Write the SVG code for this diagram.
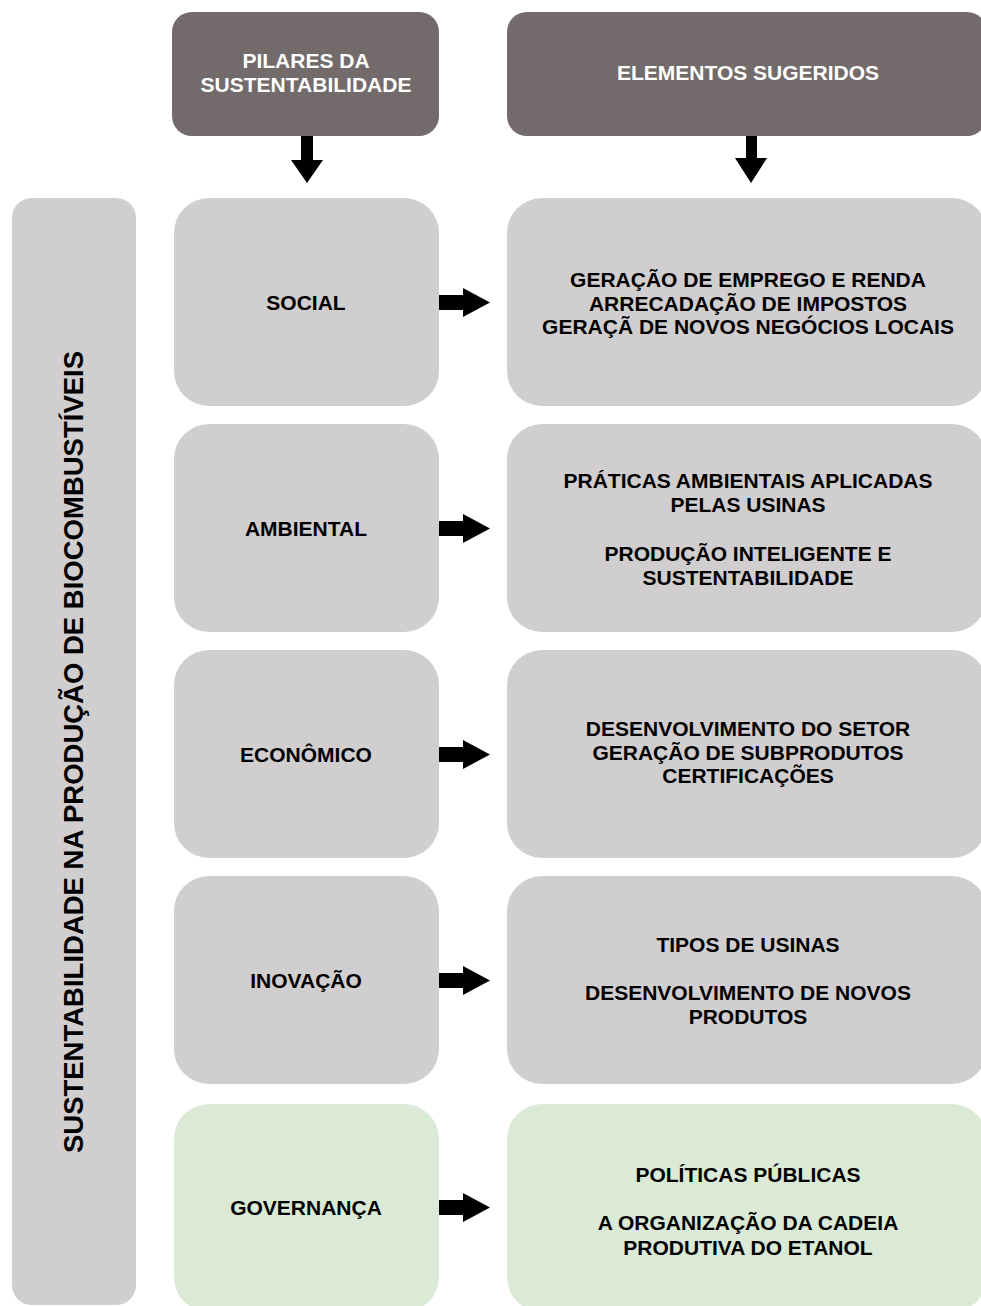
<svg xmlns="http://www.w3.org/2000/svg" width="981" height="1306" viewBox="0 0 981 1306">
  <style>
    .hdr { fill: #736b6b; }
    .gray { fill: #d0cecf; }
    .green { fill: #dbead6; }
    .t { font-family: "Liberation Sans", Arial, sans-serif; font-weight: bold; font-size: 21px; text-anchor: middle; fill: #000; }
    .th { font-family: "Liberation Sans", Arial, sans-serif; font-weight: bold; font-size: 21px; text-anchor: middle; fill: #ffffff; }
    .tv { font-family: "Liberation Sans", Arial, sans-serif; font-weight: bold; font-size: 27.5px; text-anchor: middle; fill: #000; }
    .arr { fill: #000; }
  </style>
  <rect width="981" height="1306" fill="#ffffff"/>

  <g id="header-pilares">
    <rect class="hdr" x="172" y="12" width="267" height="124" rx="20" ry="20"/>
    <text class="th" x="306" y="68">PILARES DA</text>
    <text class="th" x="306" y="92">SUSTENTABILIDADE</text>
  </g>
  <g id="header-elementos">
    <rect class="hdr" x="507" y="12" width="480" height="124" rx="20" ry="20"/>
    <text class="th" x="748" y="80">ELEMENTOS SUGERIDOS</text>
  </g>

  <g id="side-label">
    <rect class="gray" x="12" y="198" width="124" height="1107" rx="20" ry="20"/>
    <text class="tv" transform="translate(83,752) rotate(-90)" x="0" y="0">SUSTENTABILIDADE NA PRODUÇÃO DE BIOCOMBUSTÍVEIS</text>
  </g>

  <g id="pilar-social">
    <rect class="gray" x="174" y="198" width="265" height="208" rx="35" ry="35"/>
    <text class="t" x="306" y="309.5">SOCIAL</text>
  </g>
  <g id="pilar-ambiental">
    <rect class="gray" x="174" y="424" width="265" height="208" rx="35" ry="35"/>
    <text class="t" x="306" y="535.5">AMBIENTAL</text>
  </g>
  <g id="pilar-economico">
    <rect class="gray" x="174" y="650" width="265" height="208" rx="35" ry="35"/>
    <text class="t" x="306" y="761.5">ECONÔMICO</text>
  </g>
  <g id="pilar-inovacao">
    <rect class="gray" x="174" y="876" width="265" height="208" rx="35" ry="35"/>
    <text class="t" x="306" y="987.5">INOVAÇÃO</text>
  </g>
  <g id="pilar-governanca">
    <rect class="green" x="174" y="1104" width="265" height="208" rx="35" ry="35"/>
    <text class="t" x="306" y="1215">GOVERNANÇA</text>
  </g>

  <g id="elem-social">
    <rect class="gray" x="507" y="198" width="480" height="208" rx="35" ry="35"/>
    <text class="t" x="748" y="287">GERAÇÃO DE EMPREGO E RENDA</text>
    <text class="t" x="748" y="311">ARRECADAÇÃO DE IMPOSTOS</text>
    <text class="t" x="748" y="334">GERAÇÃ DE NOVOS NEGÓCIOS LOCAIS</text>
  </g>
  <g id="elem-ambiental">
    <rect class="gray" x="507" y="424" width="480" height="208" rx="35" ry="35"/>
    <text class="t" x="748" y="488">PRÁTICAS AMBIENTAIS APLICADAS</text>
    <text class="t" x="748" y="512">PELAS USINAS</text>
    <text class="t" x="748" y="561">PRODUÇÃO INTELIGENTE E</text>
    <text class="t" x="748" y="585">SUSTENTABILIDADE</text>
  </g>
  <g id="elem-economico">
    <rect class="gray" x="507" y="650" width="480" height="208" rx="35" ry="35"/>
    <text class="t" x="748" y="736">DESENVOLVIMENTO DO SETOR</text>
    <text class="t" x="748" y="760">GERAÇÃO DE SUBPRODUTOS</text>
    <text class="t" x="748" y="783">CERTIFICAÇÕES</text>
  </g>
  <g id="elem-inovacao">
    <rect class="gray" x="507" y="876" width="480" height="208" rx="35" ry="35"/>
    <text class="t" x="748" y="952">TIPOS DE USINAS</text>
    <text class="t" x="748" y="1000">DESENVOLVIMENTO DE NOVOS</text>
    <text class="t" x="748" y="1024">PRODUTOS</text>
  </g>
  <g id="elem-governanca">
    <rect class="green" x="507" y="1104" width="480" height="208" rx="35" ry="35"/>
    <text class="t" x="748" y="1182">POLÍTICAS PÚBLICAS</text>
    <text class="t" x="748" y="1230">A ORGANIZAÇÃO DA CADEIA</text>
    <text class="t" x="748" y="1255">PRODUTIVA DO ETANOL</text>
  </g>

  <g id="connectors">
    <polygon class="arr" points="301,136 313,136 313,160 323,160 307,183 291,160 301,160"/>
    <polygon class="arr" points="746,136 757,136 757,158 767,158 751,183 735,158 746,158"/>
    <polygon class="arr" points="439,295 463,295 463,288 490,302.5 463,317 463,310 439,310"/>
    <polygon class="arr" points="439,521 463,521 463,514 490,528.5 463,543 463,536 439,536"/>
    <polygon class="arr" points="439,747 463,747 463,740 490,754.5 463,769 463,762 439,762"/>
    <polygon class="arr" points="439,973 463,973 463,966 490,980.5 463,995 463,988 439,988"/>
    <polygon class="arr" points="439,1200 463,1200 463,1193 490,1207.5 463,1222 463,1215 439,1215"/>
  </g>
</svg>
